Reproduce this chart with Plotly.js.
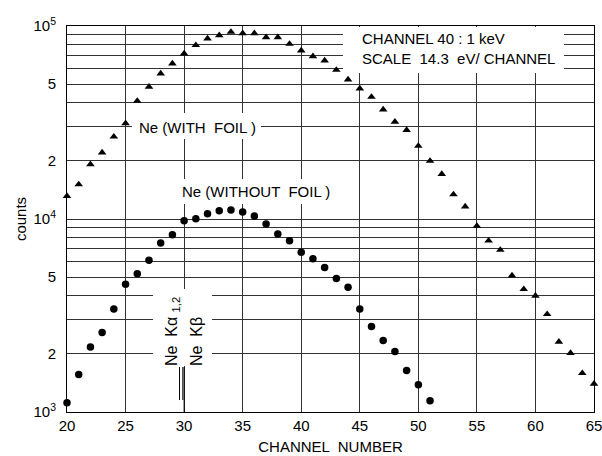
<!DOCTYPE html>
<html>
<head>
<meta charset="utf-8">
<script src="https://cdn.plot.ly/plotly-3.0.1.min.js"></script>
<style>html,body{margin:0;padding:0;background:#fff}#chart{width:602px;height:456px}</style>
</head>
<body>
<div id="chart"></div>
<script>
// Channel numbers
var channelsWithFoil = [20,21,22,23,24,25,26,27,28,29,30,31,32,33,34,35,36,37,38,39,40,41,42,43,44,45,46,47,48,49,50,51,52,53,54,55,56,57,58,59,60,61,62,63,64,65];
var countsWithFoil = [13150,15100,19200,22100,26700,31300,40900,48400,56700,63900,72000,79500,86100,89500,93100,91600,91600,87400,87400,80700,74600,69700,66200,59200,52800,47400,42900,36900,31900,28900,23900,20000,17100,13400,11600,9200,7720,6910,5090,4330,4000,3210,2310,2020,1590,1400];
var channelsWithoutFoil = [20,21,22,23,24,25,26,27,28,29,30,31,32,33,34,35,36,37,38,39,40,41,42,43,44,45,46,47,48,49,50,51];
var countsWithoutFoil = [1117,1566,2170,2580,3420,4590,5210,6110,7510,8290,9800,10040,10650,11040,11130,10870,10360,9420,8360,7720,6720,6230,5600,4910,4430,3420,2770,2346,2060,1642,1384,1144];
// Axis ticks
var xTickVals = [20,25,30,35,40,45,50,55,60,65];
var yTickVals = [1000,2000,5000,10000,20000,50000,100000];
var yTickText = ['10<sup>3</sup>','2','5','10<sup>4</sup>','2','5','10<sup>5</sup>'];
var yMinorVals = [3000,4000,6000,7000,8000,9000,30000,40000,60000,70000,80000,90000];
// Emission line markers
var lineLabels = ['Ne  Kα <sub>1,2</sub>', 'Ne  Kβ'];
var lineChannels = [29.75, 30];
// Text labels
var seriesLabels = ['Ne (WITH  FOIL )', 'Ne (WITHOUT  FOIL )'];
var infoLines = ['CHANNEL 40 : 1 keV', 'SCALE  14.3  eV/ CHANNEL'];

var FONT = 'Liberation Sans, Arial, sans-serif';
var L = 67, R = 8, T = 26, B = 44, W = 602, H = 456;
var pw = W - L - R, ph = H - T - B;
function px2pX(p){ return (p - L) / pw; }
function px2pY(p){ return (H - B - p) / ph; }
function coverRect(x0,x1,y0,y1){
  return {type:'rect', xref:'paper', yref:'paper', x0:px2pX(x0), x1:px2pX(x1), y0:px2pY(y1), y1:px2pY(y0),
          fillcolor:'#fff', line:{width:0}, layer:'above'};
}

var traces = [
  {x: channelsWithFoil, y: countsWithFoil, mode:'markers', type:'scatter',
   marker:{symbol:'triangle-up', size:7.5, color:'#000'}, cliponaxis:false},
  {x: channelsWithoutFoil, y: countsWithoutFoil, mode:'markers', type:'scatter',
   marker:{symbol:'circle', size:7.5, color:'#000'}, cliponaxis:false}
];

var shapes = [
  coverRect(343, 564, 27, 73),
  coverRect(132, 261, 113, 139),
  coverRect(176, 330, 179, 204),
  coverRect(153, 212, 289, 366)
];
// K alpha double line, K beta line
shapes.push({type:'line', xref:'x', yref:'paper', x0:lineChannels[0]-0.14, x1:lineChannels[0]-0.14, y0:px2pY(400), y1:px2pY(367), line:{color:'#000', width:1}, layer:'above'});
shapes.push({type:'line', xref:'x', yref:'paper', x0:lineChannels[0]+0.14, x1:lineChannels[0]+0.14, y0:px2pY(400), y1:px2pY(367), line:{color:'#000', width:1}, layer:'above'});
shapes.push({type:'line', xref:'x', yref:'paper', x0:lineChannels[1], x1:lineChannels[1], y0:0, y1:px2pY(367), line:{color:'#000', width:1}, layer:'above'});

var annFont = {family: FONT, size: 15, color:'#000'};
var rotFont = {family: FONT, size: 16, color:'#000'};
var annotations = [
  {x:25.95, y:4.476, xref:'x', yref:'y', text:seriesLabels[0], showarrow:false, xanchor:'left', yanchor:'middle', font:annFont},
  {x:29.66, y:4.141, xref:'x', yref:'y', text:seriesLabels[1], showarrow:false, xanchor:'left', yanchor:'middle', font:annFont},
  {x:45.0, y:4.935, xref:'x', yref:'y', text:infoLines[0], showarrow:false, xanchor:'left', yanchor:'middle', font:annFont},
  {x:45.0, y:4.831, xref:'x', yref:'y', text:infoLines[1], showarrow:false, xanchor:'left', yanchor:'middle', font:annFont},
  {x:28.95, y:3.229, xref:'x', yref:'y', text:lineLabels[0], showarrow:false, textangle:-90, xanchor:'center', yanchor:'bottom', font:rotFont},
  {x:31.0, y:3.229, xref:'x', yref:'y', text:lineLabels[1], showarrow:false, textangle:-90, xanchor:'center', yanchor:'bottom', font:rotFont}
];

var gridCol = '#333';
var layout = {
  width: W, height: H,
  margin: {l:L, r:R, t:T, b:B, pad:0},
  paper_bgcolor:'#fff', plot_bgcolor:'#fff',
  showlegend:false,
  font:{family:FONT, size:15, color:'#000'},
  xaxis:{range:[20,65], tickvals:xTickVals, ticks:'', showgrid:true, gridcolor:gridCol, gridwidth:1,
         ticklabeloverflow:'allow',
         showline:true, linecolor:'#000', linewidth:1, mirror:true, zeroline:false,
         tickfont:{family:FONT, size:15, color:'#000'},
         title:{text:'CHANNEL  NUMBER', font:{family:FONT, size:15, color:'#000'}, standoff:8}},
  yaxis:{type:'log', range:[3,5], tickvals:yTickVals, ticktext:yTickText, ticks:'', showgrid:true, gridcolor:gridCol, gridwidth:1,
         ticklabelstandoff:7,
         minor:{tickvals:yMinorVals, showgrid:true, gridcolor:gridCol, gridwidth:1, ticks:''},
         showline:true, linecolor:'#000', linewidth:1, mirror:true, zeroline:false,
         tickfont:{family:FONT, size:15, color:'#000'},
         title:{text:'counts', font:{family:FONT, size:15, color:'#000'}, standoff:3}},
  shapes: shapes,
  annotations: annotations
};

Plotly.newPlot('chart', traces, layout, {displayModeBar:false, staticPlot:true});
</script>
</body>
</html>
